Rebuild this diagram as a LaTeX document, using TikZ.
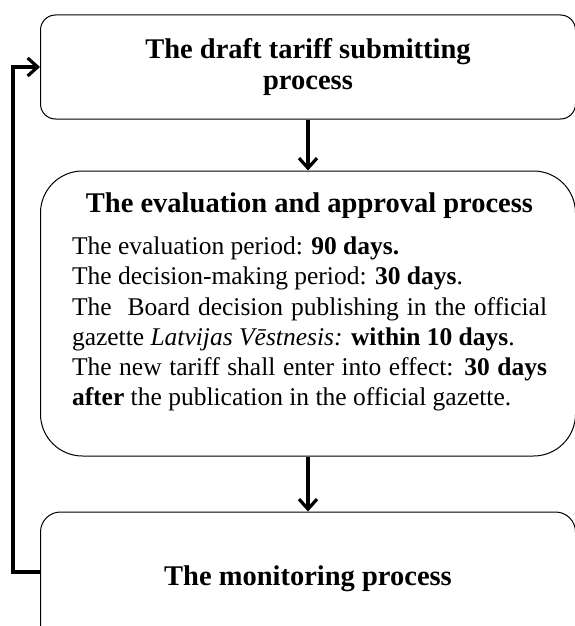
\documentclass[tikz,border=0pt]{standalone}
\usepackage{fontspec}
\setmainfont{Liberation Serif}
\usetikzlibrary{arrows.meta,positioning}

\tikzset{
  procbox/.style={draw, line width=1pt, minimum width=535pt, inner sep=0pt, align=center},
  flow/.style={line width=3.2pt, -{Straight Barb[length=10pt,width=18pt]}}
}
\newcommand{\boxtitle}{\fontsize{28.5}{31}\selectfont\bfseries}
\newcommand{\boxbody}{\fontsize{25.5}{30.2}\selectfont}

\begin{document}
\begin{tikzpicture}[x=1pt,y=-1pt]
\useasboundingbox (0,0) rectangle (574,626);
% boxes
\node [procbox, rounded corners=15pt, minimum height=104pt, font=\boxtitle] (draft) at (308,67)
  {The draft tariff submitting\\ process};
\node [procbox, rounded corners=42pt, minimum height=285pt] (eval) at (308,313.5) {};
\node [procbox, rounded corners=20pt, minimum height=134pt, font=\boxtitle] (monitor) at (308,579)
  {The monitoring process};
% text of the middle box
\node [below=22pt of eval.north, xshift=1.5pt, inner sep=0pt, text width=475pt, align=justify] (evaltext)
  {{\centering\boxtitle The evaluation and approval process\par}\vspace{12pt}
   \boxbody
   The evaluation period: \textbf{90 days.}\par
   The decision-making period: \textbf{30 days}.\par
   The\ \ Board decision publishing in the official\linebreak
   gazette \textit{Latvijas Vēstnesis:} \textbf{within 10 days}.\par
   The new tariff shall enter into effect: \textbf{30 days}\linebreak
   \textbf{after} the publication in the official gazette.\par};
% arrows
\draw [flow] (draft) -- (eval);
\draw [flow] (eval) -- (monitor);
\draw [flow] ([yshift=7pt]monitor.west) -- ++(-27,0) |- (draft.west);
\end{tikzpicture}
\end{document}
